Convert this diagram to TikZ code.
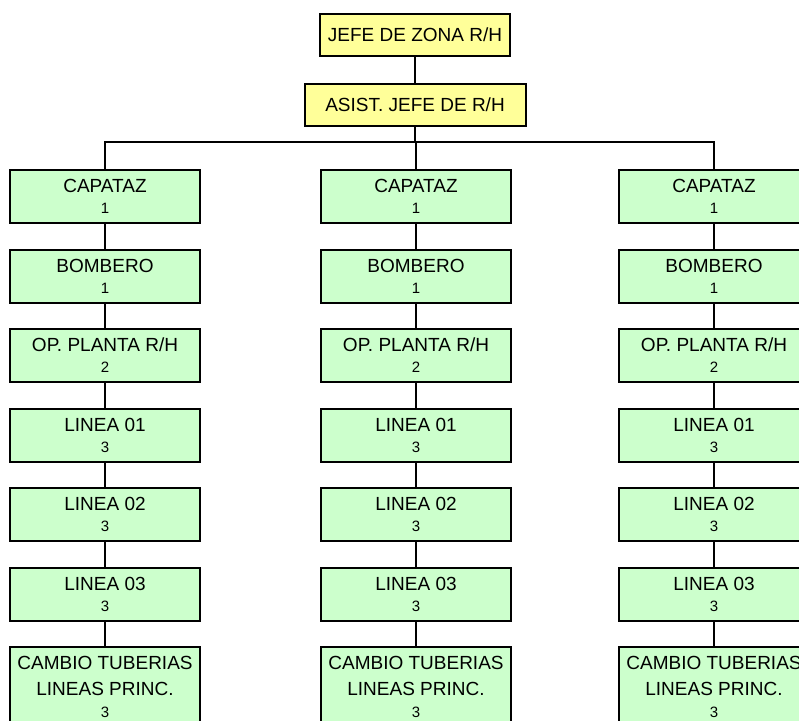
\documentclass[tikz,border=0pt]{standalone}
\usepackage{fontspec}
\setmainfont{Liberation Sans}
\usetikzlibrary{positioning}
\definecolor{amarillo}{HTML}{FFFF99}
\definecolor{verde}{HTML}{CCFFCC}
\newcommand{\cant}[1]{{\fontsize{7.5}{8}\selectfont #1}}
\tikzset{
	jefe/.style={draw, line width=1pt, fill=amarillo, inner sep=0pt, minimum height=21pt, font=\fontsize{9.5}{11}\selectfont},
	puesto/.style={draw, line width=1pt, fill=verde, inner sep=0pt, minimum width=95pt, minimum height=26.5pt, align=center, font=\fontsize{9.5}{10.5}\selectfont},
	cambio/.style={puesto, minimum height=40pt},
	linea/.style={line width=1pt}
}

\begin{document}
\begin{tikzpicture}
		\useasboundingbox (0,0) rectangle (399.5pt,-360pt);
		\clip (0,0) rectangle (399.5pt,-360pt);
		\node (jefe)[jefe, minimum width=95pt, anchor=north] at (207.5pt,-6.5pt) {JEFE DE ZONA R/H};
		\node (asist)[jefe, minimum width=110.5pt, anchor=north] at (207.5pt,-41.5pt) {ASIST. JEFE DE R/H};
		\draw [linea](jefe.south)--(asist.north);
		\draw [linea](asist.south)--++(0,-7.5pt) coordinate (barra);
		%
		\node (a1)[puesto, anchor=north] at (52.5pt,-84.5pt) {CAPATAZ\\\cant{1}};
		\node (a2)[puesto, below=12.25pt of a1] {BOMBERO\\\cant{1}};
		\node (a3)[puesto, below=12.25pt of a2] {OP. PLANTA R/H\\\cant{2}};
		\node (a4)[puesto, below=12.25pt of a3] {LINEA 01\\\cant{3}};
		\node (a5)[puesto, below=12.25pt of a4] {LINEA 02\\\cant{3}};
		\node (a6)[puesto, below=12.25pt of a5] {LINEA 03\\\cant{3}};
		\node (a7)[cambio, below=12.25pt of a6] {CAMBIO TUBERIAS\\[2.5pt]LINEAS PRINC.\\[0.5pt]\cant{3}};
		\draw [linea](barra)-|(a1.north);
		\draw [linea](a1)--(a2) (a2)--(a3) (a3)--(a4) (a4)--(a5) (a5)--(a6) (a6)--(a7);
		%
		\node (b1)[puesto, anchor=north] at (208pt,-84.5pt) {CAPATAZ\\\cant{1}};
		\node (b2)[puesto, below=12.25pt of b1] {BOMBERO\\\cant{1}};
		\node (b3)[puesto, below=12.25pt of b2] {OP. PLANTA R/H\\\cant{2}};
		\node (b4)[puesto, below=12.25pt of b3] {LINEA 01\\\cant{3}};
		\node (b5)[puesto, below=12.25pt of b4] {LINEA 02\\\cant{3}};
		\node (b6)[puesto, below=12.25pt of b5] {LINEA 03\\\cant{3}};
		\node (b7)[cambio, below=12.25pt of b6] {CAMBIO TUBERIAS\\[2.5pt]LINEAS PRINC.\\[0.5pt]\cant{3}};
		\draw [linea](barra)-|(b1.north);
		\draw [linea](b1)--(b2) (b2)--(b3) (b3)--(b4) (b4)--(b5) (b5)--(b6) (b6)--(b7);
		%
		\node (c1)[puesto, anchor=north] at (357pt,-84.5pt) {CAPATAZ\\\cant{1}};
		\node (c2)[puesto, below=12.25pt of c1] {BOMBERO\\\cant{1}};
		\node (c3)[puesto, below=12.25pt of c2] {OP. PLANTA R/H\\\cant{2}};
		\node (c4)[puesto, below=12.25pt of c3] {LINEA 01\\\cant{3}};
		\node (c5)[puesto, below=12.25pt of c4] {LINEA 02\\\cant{3}};
		\node (c6)[puesto, below=12.25pt of c5] {LINEA 03\\\cant{3}};
		\node (c7)[cambio, below=12.25pt of c6] {CAMBIO TUBERIAS\\[2.5pt]LINEAS PRINC.\\[0.5pt]\cant{3}};
		\draw [linea](barra)-|(c1.north);
		\draw [linea](c1)--(c2) (c2)--(c3) (c3)--(c4) (c4)--(c5) (c5)--(c6) (c6)--(c7);
	\end{tikzpicture}
\end{document}
